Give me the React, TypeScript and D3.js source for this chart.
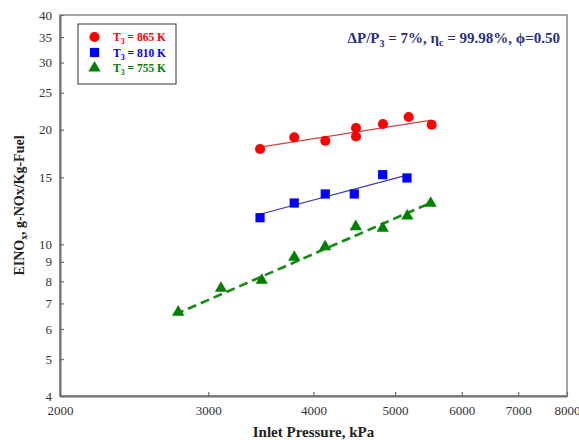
import { useEffect, useRef } from "react";
import * as d3 from "d3";

const W = 579;
const H = 440;

// Inlet pressure (kPa) and EINOx
const redP = [3456, 3795, 4131, 4493, 4493, 4837, 5189, 5526];
const redE = [17.8, 19.1, 18.7, 20.2, 19.2, 20.7, 21.6, 20.6];
const redFitP = [3456, 5526];
const redFitE = [18.0, 21.2];

const blueP = [3456, 3795, 4131, 4472, 4833, 5165];
const blueE = [11.75, 12.84, 13.56, 13.56, 15.24, 14.94];
const blueFitP = [3456, 5165];
const blueFitE = [12.0, 15.2];

const greenP = [2763, 3106, 3472, 3795, 4129, 4490, 4833, 5170, 5510];
const greenE = [6.64, 7.67, 8.05, 9.25, 9.86, 11.13, 11.02, 11.87, 12.82];
const greenFitP = [2740, 5530];
const greenFitE = [6.55, 12.9];

const xTicks = [2000, 3000, 4000, 5000, 6000, 7000, 8000];
const yTicks = [4, 5, 6, 7, 8, 9, 10, 15, 20, 25, 30, 35, 40];

const legendLabels = ["865 K", "810 K", "755 K"];

const FONT = "'Liberation Serif', 'Times New Roman', serif";

export default function App() {
  const svgRef = useRef<SVGSVGElement>(null);

  useEffect(() => {
    if (!svgRef.current) return;
    const svg = d3.select(svgRef.current);
    svg.selectAll("*").remove();

    const margin = { top: 15, right: 12, bottom: 44, left: 60 };
    const x = d3.scaleLog().domain([2000, 8000]).range([margin.left, W - margin.right]);
    const y = d3.scaleLog().domain([4, 40]).range([H - margin.bottom, margin.top]);
    const [x0, x1] = x.range();
    const [y1, y0] = y.range();

    svg.append("rect").attr("width", W).attr("height", H).attr("fill", "#fff");

    // frame
    svg
      .append("rect")
      .attr("x", x0)
      .attr("y", y0)
      .attr("width", x1 - x0)
      .attr("height", y1 - y0)
      .attr("fill", "none")
      .attr("stroke", "#8a8a8a")
      .attr("stroke-width", 1.5);

    // axes (inward ticks)
    const xAxis = d3
      .axisBottom(x)
      .tickValues(xTicks)
      .tickSizeInner(-4)
      .tickSizeOuter(0)
      .tickPadding(10)
      .tickFormat((d) => String(d));
    const gx = svg.append("g").attr("transform", `translate(0,${y1})`).call(xAxis);

    const yAxis = d3
      .axisLeft(y)
      .tickValues(yTicks)
      .tickSizeInner(-4)
      .tickSizeOuter(0)
      .tickPadding(8)
      .tickFormat((d) => String(d));
    const gy = svg.append("g").attr("transform", `translate(${x0},0)`).call(yAxis);

    [gx, gy].forEach((g) => {
      g.select(".domain").attr("stroke", "#707070").attr("stroke-width", 2);
      g.selectAll(".tick line").attr("stroke", "#707070").attr("stroke-width", 1.2);
      g.selectAll(".tick text")
        .attr("fill", "#333")
        .style("font-family", FONT)
        .style("font-size", "13px");
    });

    const line = d3
      .line<[number, number]>()
      .x((d) => x(d[0]))
      .y((d) => y(d[1]));

    // fit lines
    svg
      .append("path")
      .attr("d", line(d3.zip(redFitP, redFitE) as [number, number][]))
      .attr("fill", "none")
      .attr("stroke", "#c84848")
      .attr("stroke-width", 1.2);
    svg
      .append("path")
      .attr("d", line(d3.zip(blueFitP, blueFitE) as [number, number][]))
      .attr("fill", "none")
      .attr("stroke", "#3a3aa8")
      .attr("stroke-width", 1.2);
    svg
      .append("path")
      .attr("d", line(d3.zip(greenFitP, greenFitE) as [number, number][]))
      .attr("fill", "none")
      .attr("stroke", "#138a13")
      .attr("stroke-width", 2.6)
      .attr("stroke-dasharray", "9,5");

    const circle = d3.symbol().type(d3.symbolCircle).size(80);
    const square = d3.symbol().type(d3.symbolSquare).size(85);
    const triangle = d3.symbol().type(d3.symbolTriangle).size(65);

    const drawPts = (P: number[], E: number[], sym: d3.Symbol<any, any>, color: string) => {
      svg
        .append("g")
        .selectAll("path")
        .data(d3.zip(P, E))
        .join("path")
        .attr("d", sym() as string)
        .attr("transform", (d) => `translate(${x(d[0])},${y(d[1])})`)
        .attr("fill", color);
    };
    drawPts(redP, redE, circle, "#ff0000");
    drawPts(blueP, blueE, square, "#0000ff");
    drawPts(greenP, greenE, triangle, "#008000");

    // legend
    const lg = svg.append("g");
    lg.append("rect")
      .attr("x", 78)
      .attr("y", 24)
      .attr("width", 98)
      .attr("height", 60)
      .attr("fill", "#fff")
      .attr("stroke", "#333")
      .attr("stroke-width", 1);
    const syms = [circle, square, triangle];
    const cols = ["#ff0000", "#0000ff", "#008000"];
    legendLabels.forEach((lab, i) => {
      const cy = 37 + i * 15.5;
      lg.append("path")
        .attr("d", syms[i]() as string)
        .attr("transform", `translate(94.5,${cy})`)
        .attr("fill", cols[i]);
      const t = lg
        .append("text")
        .attr("x", 113)
        .attr("y", cy + 4)
        .attr("fill", cols[i])
        .style("font-family", FONT)
        .style("font-size", "11.5px")
        .style("font-weight", "bold");
      t.append("tspan").text("T");
      t.append("tspan").attr("dy", 3).style("font-size", "8px").text("3");
      t.append("tspan").attr("dy", -3).text(` = ${lab}`);
    });

    // annotation
    const an = svg
      .append("text")
      .attr("x", 560)
      .attr("y", 43)
      .attr("text-anchor", "end")
      .attr("fill", "#2b2f80")
      .style("font-family", FONT)
      .style("font-size", "15px")
      .style("font-weight", "bold");
    an.append("tspan").text("ΔP/P");
    an.append("tspan").attr("dy", 4).style("font-size", "10px").text("3");
    an.append("tspan").attr("dy", -4).text(" = 7%, η");
    an.append("tspan").attr("dy", 3).style("font-size", "10px").text("c");
    an.append("tspan").attr("dy", -3).text(" = 99.98%, ϕ=0.50");

    // axis titles
    svg
      .append("text")
      .attr("x", (x0 + x1) / 2)
      .attr("y", 437)
      .attr("text-anchor", "middle")
      .attr("fill", "#222")
      .style("font-family", FONT)
      .style("font-size", "15px")
      .style("font-weight", "bold")
      .text("Inlet Pressure, kPa");

    const yl = svg
      .append("text")
      .attr("transform", `translate(24,${(y0 + y1) / 2}) rotate(-90)`)
      .attr("text-anchor", "middle")
      .attr("fill", "#222")
      .style("font-family", FONT)
      .style("font-size", "14px")
      .style("font-weight", "bold");
    yl.append("tspan").text("EINO");
    yl.append("tspan").attr("dy", 3).style("font-size", "9.5px").text("x");
    yl.append("tspan").attr("dy", -3).text(", g-NOx/Kg-Fuel");
  }, []);

  return (
    <svg
      ref={svgRef}
      width={W}
      height={H}
      style={{ position: "absolute", left: 0, top: 0, display: "block" }}
    />
  );
}
